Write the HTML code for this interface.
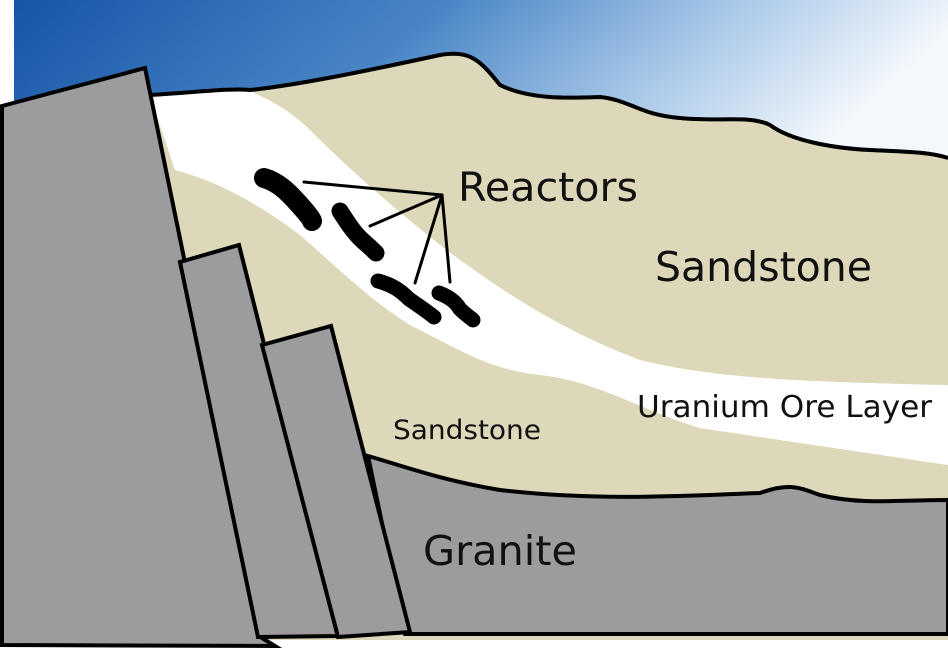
<!DOCTYPE html>
<html><head><meta charset="utf-8"><style>
html,body{margin:0;padding:0;background:#fff}
svg{display:block}
text{font-family:"DejaVu Sans","Liberation Sans",sans-serif;fill:#111}
</style></head><body>
<svg width="948" height="654" viewBox="0 0 948 654" xmlns="http://www.w3.org/2000/svg">
<defs>
<linearGradient id="sky" x1="0" y1="0" x2="1" y2="0.2">
<stop offset="0" stop-color="#1655a8"/>
<stop offset="0.45" stop-color="#4a86c6"/>
<stop offset="0.75" stop-color="#a9c8e8"/>
<stop offset="1" stop-color="#f4f8fc"/>
</linearGradient>
</defs>
<rect x="14" y="0" width="934" height="170" fill="url(#sky)"/>
<path d="M150,95 C200,92 230,88 250,90 C300,85 380,68 440,55 C470,50 480,60 500,85 C530,100 570,98 600,97 C630,100 640,115 680,118 C720,122 750,115 770,125 C790,140 830,148 870,150 C910,152 930,152 948,158 L948,640 L150,640 Z" fill="#dcd8b9"/>
<path d="M150,96 C200,92 230,88 250,91 C270,100 290,110 310,130 C350,170 390,205 440,245 C500,290 560,330 640,360 C720,380 820,382 948,385 L948,465 C860,452 780,440 700,428 C640,410 600,382 540,375 C490,370 460,350 410,325 C370,300 340,270 300,235 C260,205 220,182 175,170 Z" fill="#ffffff"/>
<path d="M150,95 C200,92 230,88 250,90 C300,85 380,68 440,55 C470,50 480,60 500,85 C530,100 570,98 600,97 C630,100 640,115 680,118 C720,122 750,115 770,125 C790,140 830,148 870,150 C910,152 930,152 948,158" fill="none" stroke="#000" stroke-width="4"/>
<path d="M368,456 C400,465 440,480 500,490 C600,502 700,495 760,493 C790,482 800,488 820,495 C860,505 900,500 948,500 L948,634 L405,634 Z" fill="#9c9c9f" stroke="#000" stroke-width="4"/>
<path d="M2,106 L145,68 L262,638 L275,646 L2,645 Z" fill="#9c9c9f" stroke="#000" stroke-width="4"/>
<path d="M180,262 L239,245 L338,636 L258,637 Z" fill="#9c9c9f" stroke="#000" stroke-width="4"/>
<path d="M262,345 L331,326 L410,632 L338,637 Z" fill="#9c9c9f" stroke="#000" stroke-width="4"/>
<g fill="none" stroke="#000" stroke-linecap="round" stroke-linejoin="round">
<path d="M264,178 C278,182 288,192 297,202 C306,212 311,218 312,221" stroke-width="20"/>
<path d="M340,211 C347,222 354,233 363,241 C370,247 374,251 376,253" stroke-width="17"/>
<path d="M378,281 C393,285 401,291 409,299 C419,306 428,312 434,317" stroke-width="15"/>
<path d="M439,293 C449,297 455,301 460,309 C466,315 471,318 473,320" stroke-width="15"/>
<g stroke-width="3">
<path d="M304,182 L442,195 L370,226"/>
<path d="M415,283 L442,195 L450,282"/>
</g>
</g>
<text x="458" y="201" font-size="40" textLength="180" lengthAdjust="spacingAndGlyphs">Reactors</text>
<text x="655" y="281" font-size="41" textLength="217" lengthAdjust="spacingAndGlyphs">Sandstone</text>
<text x="637" y="417" font-size="30" textLength="295" lengthAdjust="spacingAndGlyphs">Uranium Ore Layer</text>
<text x="393" y="439" font-size="27" textLength="148" lengthAdjust="spacingAndGlyphs">Sandstone</text>
<text x="423" y="565" font-size="41" textLength="154" lengthAdjust="spacingAndGlyphs">Granite</text>
</svg>
</body></html>
